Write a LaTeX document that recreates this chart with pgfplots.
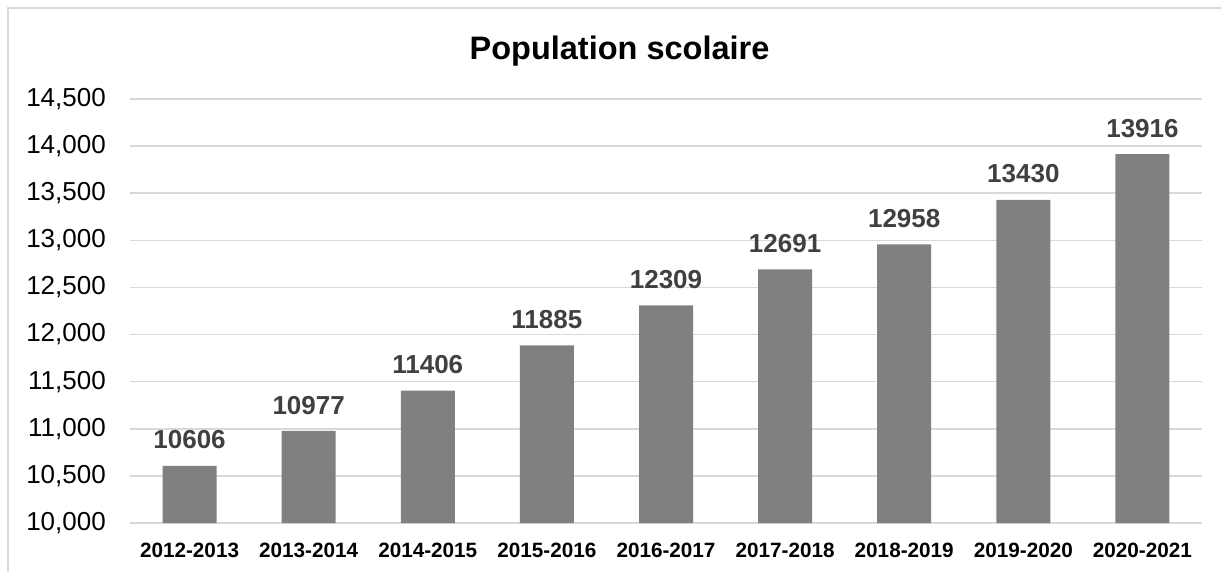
\documentclass[border=0pt]{standalone}
\usepackage{fontspec}
\setmainfont{Liberation Sans}
\usepackage{pgfplots}
\pgfplotsset{compat=1.18}
\definecolor{barc}{HTML}{808080}
\definecolor{gridc}{HTML}{D9D9D9}
\definecolor{lblc}{HTML}{404040}
\begin{document}
\begin{tikzpicture}[x=1pt,y=1pt]
\useasboundingbox (0,0) rectangle (1221,-571);
\draw[gridc, line width=2pt] (8,-580) -- (8,-8) -- (1230,-8);
\node[anchor=base, inner sep=0pt, font=\fontsize{32.5}{38}\selectfont\bfseries] at (619.5,-59) {Population scolaire};
\begin{axis}[
  at={(130pt,-523pt)}, anchor=south west,
  scale only axis, width=1072pt, height=424pt,
  xmin=-0.5, xmax=8.5, ymin=10000, ymax=14500,
  ytick={10000,10500,...,14500},
  scaled y ticks=false,
  xtick={0,...,8},
  xticklabels={2012-2013,2013-2014,2014-2015,2015-2016,2016-2017,2017-2018,2018-2019,2019-2020,2020-2021},
  axis line style={draw=none}, major tick length=0pt,
  ymajorgrids, grid style={gridc, line width=1.5pt},
  /pgf/number format/assume math mode=true,
  /pgf/number format/1000 sep={,},
  /pgf/number format/fixed,
  yticklabel style={font=\fontsize{26}{30}\selectfont, anchor=east, inner sep=0pt, xshift=-24pt},
  xticklabel style={font=\fontsize{20.7}{24}\selectfont\bfseries, anchor=north, inner sep=0pt, yshift=-19.5pt},
  ybar, bar width=54pt,
  nodes near coords, point meta=explicit symbolic,
  every node near coord/.append style={font=\fontsize{26}{30}\selectfont\bfseries, color=lblc, anchor=south, inner sep=0pt, yshift=16.5pt},
]
\addplot[fill=barc, draw=none] coordinates {
 (0,10606) [10606]
 (1,10977) [10977]
 (2,11406) [11406]
 (3,11885) [11885]
 (4,12309) [12309]
 (5,12691) [12691]
 (6,12958) [12958]
 (7,13430) [13430]
 (8,13916) [13916]
};
\end{axis}
\end{tikzpicture}
\end{document}
